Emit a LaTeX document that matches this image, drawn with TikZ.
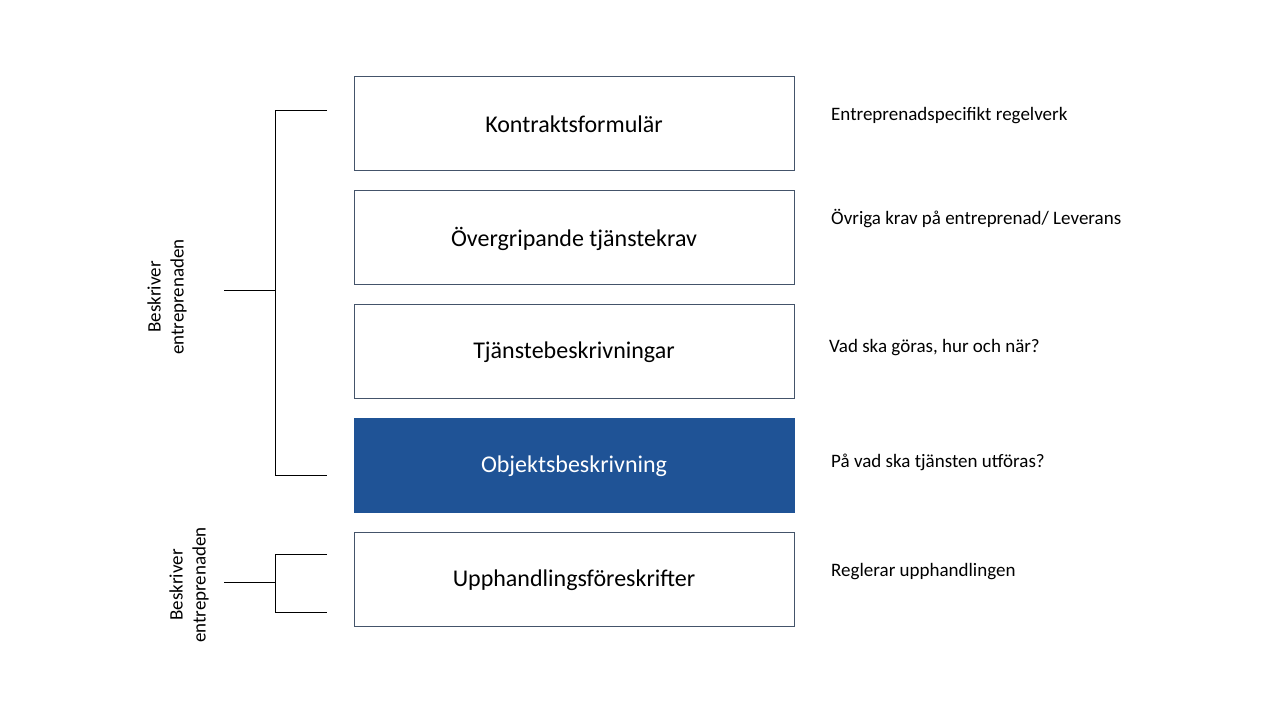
\documentclass[tikz,border=0pt]{standalone}
\usepackage{fontspec}
\setmainfont{Carlito}
\definecolor{boxline}{RGB}{68,84,106}
\definecolor{boxfill}{RGB}{31,83,150}
\begin{document}
\begin{tikzpicture}[x=1pt,y=-1pt,
  layer/.style={draw=boxline,line width=0.9pt,minimum width=440pt,minimum height=94pt,inner sep=0pt,font=\fontsize{24}{28}\selectfont},
  dark/.style={layer,fill=boxfill,draw=boxfill,text=white},
  lbl/.style={inner sep=0pt},
  side/.style={anchor=west,inner sep=0pt,font=\fontsize{19}{23}\selectfont},
  vert/.style={rotate=90,align=center,inner sep=0pt,font=\fontsize{19}{23}\selectfont},
  br/.style={line width=0.9pt,black}]
\useasboundingbox (0,0) rectangle (1280,720);
\node[layer] (k) at (574,123) {};
\node[layer] (o) at (574,237) {};
\node[layer] (t) at (574,351) {};
\node[dark] (ob) at (574,465) {};
\node[layer] (u) at (574,579) {};
\node[lbl,font=\fontsize{24}{28}\selectfont] (kt) at ([yshift=-1.5pt]k.center) {Kontraktsformulär};
\node[lbl,font=\fontsize{24}{28}\selectfont] (ot) at ([yshift=-1.5pt]o.center) {Övergripande tjänstekrav};
\node[lbl,font=\fontsize{24}{28}\selectfont] (tt) at ([yshift=-1.5pt]t.center) {Tjänstebeskrivningar};
\node[lbl,font=\fontsize{24}{28}\selectfont,text=white] (obt) at ([yshift=-1.5pt]ob.center) {Objektsbeskrivning};
\node[lbl,font=\fontsize{24}{28}\selectfont] (ut) at ([yshift=-1.5pt]u.center) {Upphandlingsföreskrifter};
\node[side] (lk) at (831,116) {Entreprenadspecifikt regelverk};
\node[side] (lo) at (831,219) {Övriga krav på entreprenad/ Leverans};
\node[side] (lt) at (829,348) {Vad ska göras, hur och när?};
\node[side] (lob) at (831,462) {På vad ska tjänsten utföras?};
\node[side] (lu) at (831,572) {Reglerar upphandlingen};
% bracket 1
\coordinate (a1) at (327,110);
\coordinate (a2) at (275,110);
\coordinate (a3) at (275,475);
\coordinate (a4) at (327,475);
\coordinate (am) at (275,290);
\coordinate (as) at (224,290);
\draw[br] (a1) -- (a2) -- (a3) -- (a4);
\draw[br] (am) -- (as);
\node[vert] (v1) at (167,297) {Beskriver\\entreprenaden};
% bracket 2
\coordinate (b1) at (327,554);
\coordinate (b2) at (275,554);
\coordinate (b3) at (275,612);
\coordinate (b4) at (327,612);
\coordinate (bm) at (275,582);
\coordinate (bs) at (224,582);
\draw[br] (b1) -- (b2) -- (b3) -- (b4);
\draw[br] (bm) -- (bs);
\node[vert] (v2) at (189,585) {Beskriver\\entreprenaden};
\end{tikzpicture}
\end{document}
